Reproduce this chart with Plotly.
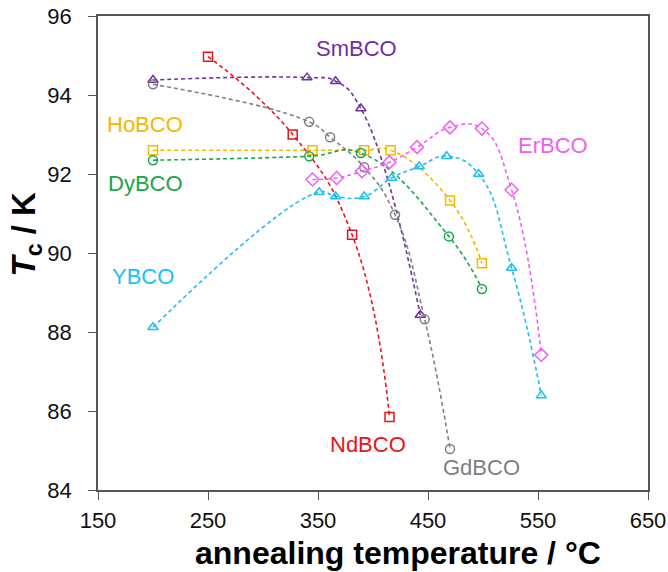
import plotly.graph_objects as go

# ---- data ----
sm_x = [200, 340, 366, 389, 443]
sm_y = [94.38, 94.44, 94.35, 93.66, 88.43]

gd_x = [200, 342, 361, 392, 420, 447, 470]
gd_y = [94.27, 93.32, 92.93, 92.17, 90.97, 88.32, 85.04]

nd_x = [250, 327, 381, 415]
nd_y = [94.97, 93.0, 90.46, 85.85]

ho_x = [200, 345, 392, 416, 470, 499]
ho_y = [92.6, 92.6, 92.6, 92.6, 91.33, 89.74]

dy_x = [200, 342, 389, 469, 499]
dy_y = [92.35, 92.45, 92.53, 90.42, 89.09]

er_x = [345, 367, 390, 415, 440, 470, 499, 526, 553]
er_y = [91.86, 91.9, 92.07, 92.3, 92.68, 93.18, 93.15, 91.6, 87.42]

y_x = [200, 351, 366, 392, 417, 442, 467, 496, 526, 553]
y_y = [88.12, 91.54, 91.43, 91.43, 91.9, 92.19, 92.45, 92.0, 89.62, 86.39]

series = [
    ("SmBCO", sm_x, sm_y, "#7030A0", "triangle-up-open"),
    ("GdBCO", gd_x, gd_y, "#808080", "circle-open"),
    ("NdBCO", nd_x, nd_y, "#E8141C", "square-open"),
    ("HoBCO", ho_x, ho_y, "#F5B800", "square-open"),
    ("DyBCO", dy_x, dy_y, "#16A84A", "circle-open"),
    ("ErBCO", er_x, er_y, "#F060F0", "diamond-open"),
    ("YBCO", y_x, y_y, "#1EBEF0", "triangle-up-open"),
]

labels = [
    ("SmBCO", 385, 95.17, "#7030A0"),
    ("HoBCO", 193, 93.25, "#F5B800"),
    ("DyBCO", 193, 91.77, "#16A84A"),
    ("YBCO", 191, 89.4, "#1EBEF0"),
    ("NdBCO", 395, 85.14, "#E8141C"),
    ("GdBCO", 499, 84.56, "#808080"),
    ("ErBCO", 564, 92.71, "#F060F0"),
]

x_ticks = [150, 250, 350, 450, 550, 650]
y_ticks = [84, 86, 88, 90, 92, 94, 96]

x_title = "<b>annealing temperature / °C</b>"
y_title = "<b><i>T</i><sub>c</sub> / K</b>"

FONT = "Liberation Sans, Arial, sans-serif"

fig = go.Figure()
for name, xs, ys, col, sym in series:
    fig.add_trace(go.Scatter(
        x=xs, y=ys, mode="lines+markers", name=name,
        line=dict(color=col, width=1.6, dash="4px,3px", shape="spline", smoothing=1.3),
        marker=dict(symbol=sym, size=9 if "diamond" not in sym else 10,
                    color=col, line=dict(color=col, width=1.5)),
        showlegend=False,
    ))

for txt, x, y, col in labels:
    fig.add_annotation(x=x, y=y, text=txt, showarrow=False,
                       font=dict(family=FONT, size=22, color=col))

# axis titles (placed as in the reference, off-centre)
fig.add_annotation(xref="paper", yref="paper", x=0.545, y=-0.132,
                   xanchor="center", yanchor="middle", showarrow=False,
                   text=x_title, font=dict(family=FONT, size=32, color="#000"))
fig.add_annotation(xref="paper", yref="paper", x=-0.13, y=0.54,
                   xanchor="center", yanchor="middle", showarrow=False, textangle=-90,
                   text=y_title, font=dict(family=FONT, size=33, color="#000"))

axis_common = dict(
    showgrid=False, zeroline=False, showline=True, linecolor="#555555", linewidth=1.5,
    mirror=True, ticks="outside", ticklen=8, tickcolor="#555555", tickwidth=1,
    tickfont=dict(family=FONT, size=22, color="#111111"), automargin=False,
)

fig.update_xaxes(range=[150, 650], tickvals=x_ticks, ticklabelstandoff=2, **axis_common)
fig.update_yaxes(range=[84, 96], tickvals=y_ticks, ticklabelstandoff=12, **axis_common)

fig.update_layout(
    width=668, height=572,
    margin=dict(l=98, r=20, t=16, b=82),
    plot_bgcolor="white", paper_bgcolor="white",
)

fig.write_html("out.html")
